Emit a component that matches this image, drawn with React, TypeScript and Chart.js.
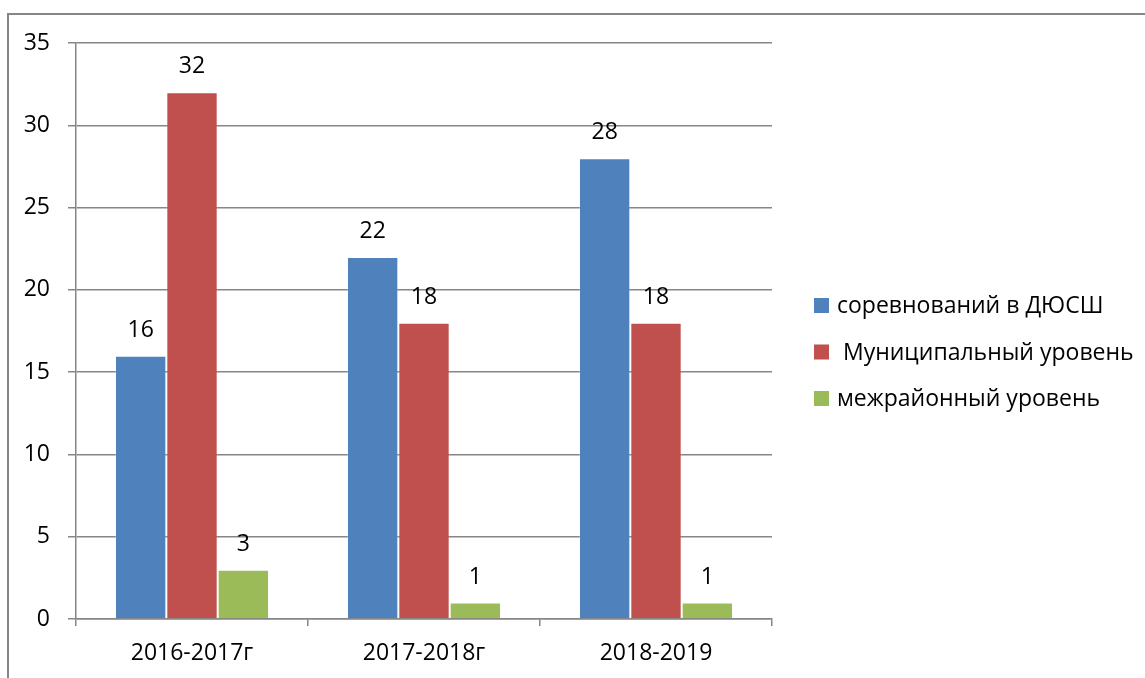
import React, { useEffect, useRef } from "react";
import { Chart, registerables } from "chart.js";

Chart.register(...registerables);

const categories = ["2016-2017г", "2017-2018г", "2018-2019"];
const seriesNames = ["соревнований в ДЮСШ", " Муниципальный уровень", "межрайонный уровень"];
const seriesColors = ["#4F81BD", "#C0504D", "#9BBB59"];
const dyussh = [16, 22, 28];
const municipal = [32, 18, 18];
const interdistrict = [3, 1, 1];
const yTicks = [0, 5, 10, 15, 20, 25, 30, 35];

const FONT = "'Open Sans', 'Noto Sans', sans-serif";
const FONT_SIZE = 23;
const GRID = "#868686";

const valueLabels = {
  id: "valueLabels",
  afterDatasetsDraw(chart: any) {
    const ctx = chart.ctx;
    ctx.save();
    ctx.font = `${FONT_SIZE}px ${FONT}`;
    ctx.fillStyle = "#000";
    ctx.textAlign = "center";
    ctx.textBaseline = "alphabetic";
    chart.data.datasets.forEach((ds: any, di: number) => {
      const meta = chart.getDatasetMeta(di);
      meta.data.forEach((bar: any, i: number) => {
        ctx.fillText(String(ds.data[i]), bar.x, bar.y - 19);
      });
    });
    ctx.restore();
  },
};

const sideLegend = {
  id: "sideLegend",
  afterDraw(chart: any) {
    const ctx = chart.ctx;
    const area = chart.chartArea;
    const x = area.right + 42;
    const mid = (area.top + area.bottom) / 2 + 21;
    const step = 46.5;
    ctx.save();
    ctx.font = `${FONT_SIZE}px ${FONT}`;
    ctx.textAlign = "left";
    ctx.textBaseline = "middle";
    chart.data.datasets.forEach((ds: any, i: number) => {
      const cy = mid + (i - 1) * step;
      ctx.fillStyle = ds.backgroundColor;
      ctx.fillRect(x, cy - 7.5, 15, 15);
      ctx.fillStyle = "#000";
      ctx.fillText(ds.label, x + 23, cy + 1);
    });
    ctx.restore();
  },
};

export default function App() {
  const ref = useRef<HTMLCanvasElement>(null);
  useEffect(() => {
    if (!ref.current) return;
    const values = [dyussh, municipal, interdistrict];
    const chart = new Chart(ref.current, {
      type: "bar",
      data: {
        labels: categories,
        datasets: values.map((v, i) => ({
          label: seriesNames[i],
          data: v,
          backgroundColor: seriesColors[i],
          borderColor: "rgba(255,255,255,0.2)",
          borderWidth: 1,
          categoryPercentage: 0.664,
          barPercentage: 1,
        })),
      },
      options: {
        responsive: false,
        animation: false,
        maintainAspectRatio: false,
        layout: { padding: { top: 28, right: 373, bottom: 0, left: 0 } },
        plugins: {
          legend: { display: false },
          tooltip: { enabled: false },
        },
        scales: {
          x: {
            afterFit: (s: any) => {
              s.height = 59;
              s.paddingLeft = 0;
              s.paddingRight = 0;
            },
            grid: {
              drawOnChartArea: false,
              drawTicks: true,
              tickLength: 7,
              color: GRID,
              lineWidth: 1.5,
            },
            border: { display: true, color: GRID, width: 1.5 },
            ticks: {
              color: "#000",
              padding: 14,
              font: { family: FONT, size: FONT_SIZE },
            },
          },
          y: {
            min: 0,
            max: 35,
            afterFit: (s: any) => {
              s.width = 67;
              s.paddingTop = 0;
              s.paddingBottom = 0;
            },
            afterBuildTicks: (s: any) => { s.ticks = yTicks.map((v) => ({ value: v })); },
            grid: {
              color: GRID,
              lineWidth: 1.5,
              tickLength: 8,
            },
            border: { display: true, color: GRID, width: 1.5 },
            ticks: {
              color: "#000",
              padding: 18,
              font: { family: FONT, size: FONT_SIZE },
            },
          },
        },
      },
      plugins: [valueLabels, sideLegend],
    });
    return () => chart.destroy();
  }, []);

  return (
    <div style={{ position: "fixed", left: 0, top: 0, width: 1145, height: 678, overflow: "hidden", background: "#fff" }}>
      <div
        style={{
          position: "absolute",
          left: 7,
          top: 13,
          width: 1300,
          height: 900,
          border: "2px solid #868686",
          boxSizing: "border-box",
        }}
      />
      <canvas ref={ref} width={1136} height={663} style={{ position: "absolute", left: 9, top: 15, width: 1136, height: 663 }} />
    </div>
  );
}
